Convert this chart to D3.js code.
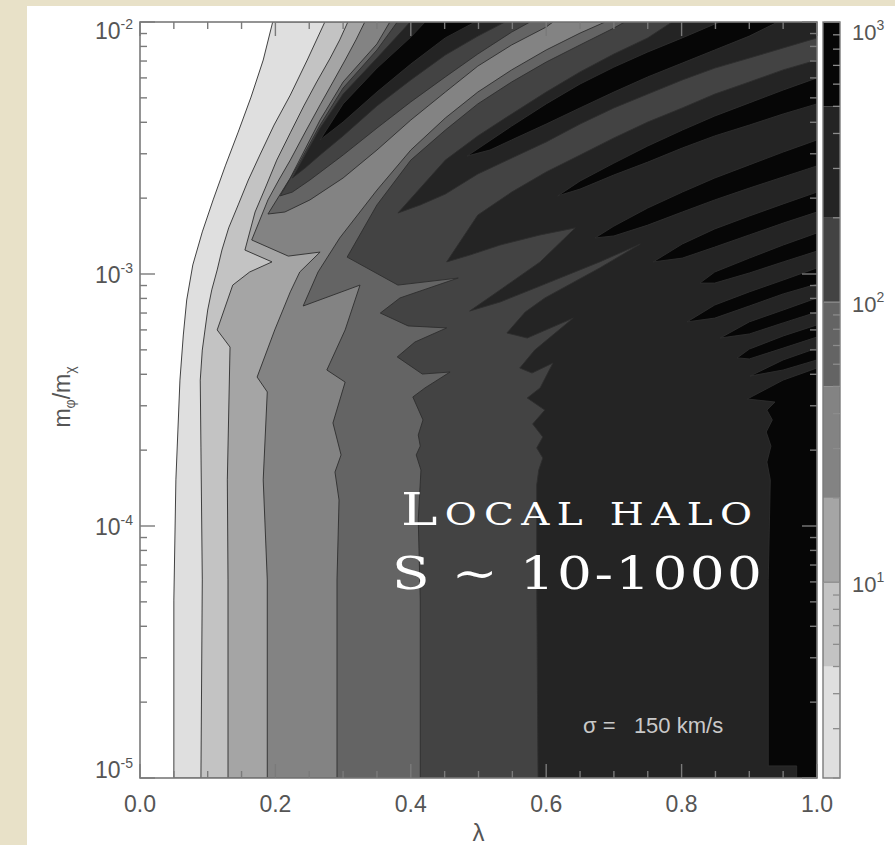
<!DOCTYPE html>
<html>
<head>
<meta charset="utf-8">
<script src="https://cdn.jsdelivr.net/npm/d3@7"></script>
<style>
  html, body { margin: 0; padding: 0; background: #e8e1c8; }
  svg { display: block; }
</style>
</head>
<body>
<svg id="chart" width="895" height="845"></svg>
<script>
// Filled contour levels of the enhancement factor S and their grey shades
const levels = [2, 5, 10, 20, 50, 100, 200, 500];
const levelShades = ['#dfdfdf', '#c3c3c3', '#a5a5a5', '#838383', '#646464', '#434343', '#242424', '#060606'];
const barTop = 1000;

// Axis ticks
const xTicks = [0, 0.2, 0.4, 0.6, 0.8, 1.0];
const yDecades = [-5, -4, -3, -2];
const barDecades = [1, 2, 3];

// Superlevel regions {S >= level}; each polygon is a list of [lambda, log10(m_phi/m_chi)]
const regionS2 = [
  [[0.050,-5],[0.050,-4.294],[0.053,-3.817],[0.056,-3.619],[0.059,-3.421],[0.064,-3.242],[0.069,-3.103],[0.078,-2.964],[0.092,-2.833],[0.108,-2.706],[0.126,-2.571],[0.145,-2.437],[0.164,-2.298],[0.182,-2.151],[0.196,-2],[1,-2],[1,-5]]
];
const regionS5 = [
  [[0.090,-5],[0.092,-4.214],[0.090,-3.687],[0.089,-3.421],[0.092,-3.302],[0.096,-3.222],[0.100,-3.143],[0.106,-3.063],[0.114,-2.984],[0.121,-2.905],[0.131,-2.817],[0.145,-2.726],[0.160,-2.627],[0.177,-2.528],[0.198,-2.409],[0.222,-2.290],[0.247,-2.151],[0.273,-2],[1,-2],[1,-5]]
];
const regionS10 = [
  [[0.130,-5],[0.130,-4.214],[0.129,-3.817],[0.133,-3.290],[0.114,-3.222],[0.137,-3.044],[0.162,-2.992],[0.195,-2.952],[0.155,-2.905],[0.170,-2.754],[0.185,-2.659],[0.202,-2.548],[0.222,-2.440],[0.242,-2.333],[0.261,-2.238],[0.281,-2.143],[0.295,-2.071],[0.307,-2],[1,-2],[1,-5]]
];
const regionS20 = [
  [[0.188,-5],[0.188,-4.214],[0.182,-3.817],[0.188,-3.468],[0.173,-3.409],[0.199,-3.222],[0.222,-3.071],[0.236,-2.992],[0.266,-2.913],[0.219,-2.929],[0.165,-2.865],[0.189,-2.706],[0.205,-2.627],[0.222,-2.548],[0.244,-2.437],[0.266,-2.329],[0.285,-2.238],[0.303,-2.151],[0.319,-2.071],[0.332,-2],[1,-2],[1,-5]]
];
const regionS50 = [
  [[0.291,-5],[0.291,-4.214],[0.294,-3.897],[0.288,-3.786],[0.297,-3.718],[0.285,-3.591],[0.303,-3.429],[0.276,-3.381],[0.303,-3.222],[0.325,-3.044],[0.241,-3.127],[0.263,-2.992],[0.295,-2.857],[0.350,-2.667],[0.400,-2.508],[0.451,-2.381],[0.499,-2.278],[0.549,-2.190],[0.600,-2.111],[0.650,-2.044],[0.687,-2],[1,-2],[1,-5]],
  [[0.189,-2.762],[0.222,-2.619],[0.266,-2.389],[0.300,-2.238],[0.350,-2.087],[0.369,-2],[0.610,-2],[0.600,-2.020],[0.549,-2.091],[0.499,-2.175],[0.451,-2.278],[0.400,-2.389],[0.350,-2.508],[0.300,-2.619],[0.251,-2.706],[0.214,-2.754]]
];
const regionS100 = [
  [[0.414,-5],[0.414,-4.294],[0.411,-3.976],[0.415,-3.778],[0.408,-3.718],[0.414,-3.683],[0.411,-3.639],[0.418,-3.579],[0.403,-3.488],[0.421,-3.452],[0.458,-3.389],[0.417,-3.397],[0.380,-3.329],[0.406,-3.270],[0.453,-3.214],[0.396,-3.206],[0.355,-3.155],[0.384,-3.095],[0.470,-3.016],[0.381,-3.044],[0.306,-2.933],[0.350,-2.726],[0.400,-2.548],[0.451,-2.429],[0.499,-2.325],[0.549,-2.238],[0.600,-2.159],[0.650,-2.091],[0.700,-2.024],[0.716,-2],[1,-2],[1,-5]],
  [[0.207,-2.690],[0.236,-2.556],[0.266,-2.409],[0.300,-2.262],[0.350,-2.111],[0.380,-2],[0.576,-2],[0.549,-2.040],[0.499,-2.127],[0.451,-2.218],[0.400,-2.317],[0.350,-2.421],[0.300,-2.528],[0.251,-2.627],[0.225,-2.675]]
];
const regionS200 = [
  [[0.588,-5],[0.586,-4.214],[0.586,-3.837],[0.589,-3.778],[0.595,-3.730],[0.586,-3.690],[0.595,-3.647],[0.580,-3.595],[0.598,-3.540],[0.572,-3.492],[0.591,-3.452],[0.610,-3.353],[0.579,-3.393],[0.561,-3.373],[0.583,-3.302],[0.640,-3.175],[0.572,-3.254],[0.542,-3.234],[0.569,-3.151],[0.598,-3.095],[0.679,-2.976],[0.739,-2.881],[0.679,-2.952],[0.598,-3.040],[0.532,-3.111],[0.487,-3.147],[0.532,-3.063],[0.591,-2.952],[0.643,-2.817],[0.591,-2.845],[0.532,-2.885],[0.487,-2.925],[0.453,-2.952],[0.499,-2.766],[0.549,-2.675],[0.600,-2.595],[0.650,-2.528],[0.700,-2.460],[0.750,-2.397],[0.801,-2.341],[0.849,-2.286],[0.900,-2.238],[0.950,-2.190],[1,-2.151],[1,-5]],
  [[0.381,-2.758],[0.451,-2.548],[0.499,-2.452],[0.549,-2.365],[0.600,-2.278],[0.650,-2.198],[0.700,-2.127],[0.750,-2.063],[0.786,-2],[1,-2],[1,-2.063],[0.900,-2.143],[0.849,-2.183],[0.801,-2.230],[0.750,-2.286],[0.700,-2.341],[0.650,-2.405],[0.600,-2.476],[0.549,-2.540],[0.499,-2.603],[0.451,-2.683],[0.414,-2.726]],
  [[0.225,-2.619],[0.266,-2.421],[0.300,-2.286],[0.350,-2.143],[0.384,-2.044],[0.399,-2],[0.539,-2],[0.499,-2.056],[0.451,-2.131],[0.400,-2.230],[0.350,-2.333],[0.300,-2.452],[0.266,-2.528],[0.244,-2.579]]
];
const regionS500 = [
  [[1,-3.373],[0.950,-3.421],[0.897,-3.496],[0.938,-3.508],[0.926,-3.540],[0.934,-3.579],[0.925,-3.627],[0.932,-3.683],[0.926,-3.746],[0.931,-3.817],[0.928,-4.214],[0.928,-4.952],[0.970,-4.952],[0.970,-5],[1,-5]],
  [[0.266,-2.468],[0.300,-2.325],[0.350,-2.183],[0.400,-2.060],[0.421,-2],[0.495,-2],[0.451,-2.063],[0.400,-2.167],[0.350,-2.278],[0.300,-2.397]],
  [[0.483,-2.532],[0.549,-2.413],[0.600,-2.325],[0.650,-2.246],[0.700,-2.179],[0.750,-2.119],[0.801,-2.063],[0.849,-2.008],[0.857,-2],[0.942,-2],[0.900,-2.056],[0.849,-2.111],[0.801,-2.163],[0.750,-2.218],[0.700,-2.278],[0.650,-2.341],[0.600,-2.405],[0.549,-2.468],[0.517,-2.508]],
  [[0.617,-2.690],[0.650,-2.631],[0.700,-2.560],[0.750,-2.492],[0.801,-2.429],[0.849,-2.373],[0.900,-2.321],[0.950,-2.270],[1,-2.222],[1,-2.325],[0.950,-2.365],[0.900,-2.409],[0.849,-2.452],[0.801,-2.500],[0.750,-2.556],[0.700,-2.607],[0.650,-2.663]],
  [[0.672,-2.857],[0.700,-2.810],[0.750,-2.738],[0.801,-2.675],[0.849,-2.619],[0.900,-2.567],[0.950,-2.516],[1,-2.468],[1,-2.571],[0.950,-2.615],[0.900,-2.659],[0.849,-2.706],[0.801,-2.754],[0.750,-2.806],[0.700,-2.849]],
  [[0.758,-2.952],[0.801,-2.881],[0.849,-2.821],[0.900,-2.770],[0.950,-2.722],[1,-2.675],[1,-2.754],[0.950,-2.798],[0.900,-2.845],[0.849,-2.893],[0.801,-2.937]],
  [[0.827,-3.036],[0.849,-2.992],[0.900,-2.937],[0.950,-2.885],[1,-2.837],[1,-2.909],[0.950,-2.952],[0.900,-2.996],[0.849,-3.036]],
  [[0.808,-3.190],[0.849,-3.123],[0.900,-3.071],[0.950,-3.024],[1,-2.976],[1,-3.040],[0.950,-3.079],[0.900,-3.127],[0.849,-3.175]],
  [[0.857,-3.254],[0.900,-3.190],[0.950,-3.143],[1,-3.095],[1,-3.151],[0.950,-3.194],[0.900,-3.238]],
  [[0.882,-3.333],[0.900,-3.298],[0.950,-3.246],[1,-3.202],[1,-3.250],[0.950,-3.294],[0.900,-3.337]],
  [[0.901,-3.405],[0.950,-3.341],[1,-3.294],[1,-3.341],[0.950,-3.381]]
];
const regions = [regionS2, regionS5, regionS10, regionS20, regionS50, regionS100, regionS200, regionS500];

// Layout
const W = 895, H = 845;
const plot = { left: 140, right: 817, top: 22, bottom: 778 };
const bar = { left: 823, right: 840 };

const svg = d3.select('#chart');

// page panel
svg.append('rect').attr('x', 0).attr('y', 0).attr('width', W).attr('height', H).attr('fill', '#e8e1c8');
svg.append('rect').attr('x', 27).attr('y', 6).attr('width', W - 27).attr('height', H - 6).attr('fill', '#ffffff');

const x = d3.scaleLinear().domain([0, 1]).range([plot.left, plot.right]);
const y = d3.scaleLog().domain([1e-5, 1e-2]).range([plot.bottom, plot.top]);
const yBar = d3.scaleLog().domain([levels[0], barTop]).range([plot.bottom, plot.top]);

svg.append('clipPath').attr('id', 'plotClip')
  .append('rect').attr('x', plot.left).attr('y', plot.top)
  .attr('width', plot.right - plot.left).attr('height', plot.bottom - plot.top);

const line = d3.line()
  .x(d => x(d[0]))
  .y(d => y(Math.pow(10, d[1])))
  .curve(d3.curveLinearClosed);

const field = svg.append('g').attr('clip-path', 'url(#plotClip)');
field.append('rect').attr('x', plot.left).attr('y', plot.top)
  .attr('width', plot.right - plot.left).attr('height', plot.bottom - plot.top).attr('fill', '#ffffff');

regions.forEach((polys, i) => {
  field.append('g')
    .selectAll('path')
    .data(polys)
    .join('path')
    .attr('d', line)
    .attr('fill', levelShades[i])
    .attr('stroke', '#2e2e2e')
    .attr('stroke-width', 0.9)
    .attr('stroke-linejoin', 'round');
});

// frame and ticks
const axisColor = '#7a7a7a';
svg.append('rect').attr('x', plot.left).attr('y', plot.top)
  .attr('width', plot.right - plot.left).attr('height', plot.bottom - plot.top)
  .attr('fill', 'none').attr('stroke', axisColor).attr('stroke-width', 1.6);

const ticks = svg.append('g').attr('stroke', axisColor).attr('stroke-width', 1.4);
d3.range(0, 1.0001, 0.05).forEach(v => {
  const major = Math.abs(v * 5 - Math.round(v * 5)) < 1e-6;
  const len = major ? 14 : 7;
  ticks.append('line').attr('x1', x(v)).attr('x2', x(v)).attr('y1', plot.bottom).attr('y2', plot.bottom - len);
  ticks.append('line').attr('x1', x(v)).attr('x2', x(v)).attr('y1', plot.top).attr('y2', plot.top + len);
});
yDecades.forEach((d, k) => {
  const mults = k < yDecades.length - 1 ? d3.range(1, 10) : [1];
  mults.forEach(m => {
    const v = m * Math.pow(10, d);
    const len = m === 1 ? 15 : 7;
    ticks.append('line').attr('x1', plot.left).attr('x2', plot.left + len).attr('y1', y(v)).attr('y2', y(v));
    ticks.append('line').attr('x1', plot.right).attr('x2', plot.right - len).attr('y1', y(v)).attr('y2', y(v));
  });
});

const labelColor = '#555555';
const font = "'Liberation Sans', Arial, sans-serif";

// x tick labels
svg.append('g').selectAll('text').data(xTicks).join('text')
  .attr('x', d => x(d)).attr('y', 812)
  .attr('text-anchor', 'middle')
  .attr('font-family', font).attr('font-size', 23).attr('fill', labelColor)
  .text(d => d.toFixed(1));

// y tick labels 10^n (end labels pulled inside the axis span)
const yLabelShift = { '-5': 0, '-4': 9, '-3': 9, '-2': 17 };
yDecades.forEach(d => {
  const t = svg.append('text')
    .attr('x', plot.left - 7).attr('y', y(Math.pow(10, d)) + yLabelShift[d])
    .attr('text-anchor', 'end')
    .attr('font-family', font).attr('font-size', 23).attr('fill', labelColor);
  t.append('tspan').text('10');
  t.append('tspan').attr('dy', -10).attr('font-size', 14).text(d);
});

// axis titles
svg.append('text').attr('x', x(0.5)).attr('y', 841)
  .attr('text-anchor', 'middle').attr('font-family', font).attr('font-size', 24).attr('fill', labelColor)
  .text('λ');
const yTitle = svg.append('text')
  .attr('transform', `translate(70, 397) rotate(-90)`)
  .attr('text-anchor', 'middle').attr('font-family', font).attr('font-size', 23).attr('fill', labelColor);
yTitle.append('tspan').text('m');
yTitle.append('tspan').attr('font-size', 14).attr('dy', 5).text('φ');
yTitle.append('tspan').attr('dy', -5).text('/m');
yTitle.append('tspan').attr('font-size', 14).attr('dy', 5).text('χ');

// colour bar
const barLevels = levels.concat([barTop]);
svg.append('g').selectAll('rect').data(levels).join('rect')
  .attr('x', bar.left).attr('width', bar.right - bar.left)
  .attr('y', (d, i) => yBar(barLevels[i + 1]))
  .attr('height', (d, i) => yBar(d) - yBar(barLevels[i + 1]))
  .attr('fill', (d, i) => levelShades[i]);
svg.append('rect').attr('x', bar.left).attr('y', plot.top)
  .attr('width', bar.right - bar.left).attr('height', plot.bottom - plot.top)
  .attr('fill', 'none').attr('stroke', axisColor).attr('stroke-width', 1.4);
const barTicks = svg.append('g').attr('stroke', '#8c8c8c').attr('stroke-width', 1.3);
[0, 1, 2].forEach(d => {
  d3.range(1, 10).forEach(m => {
    const v = m * Math.pow(10, d);
    if (v < levels[0] || v > barTop) return;
    const len = m === 1 ? 16 : 7;
    barTicks.append('line').attr('x1', bar.right).attr('x2', bar.right - len).attr('y1', yBar(v)).attr('y2', yBar(v));
  });
});
barTicks.append('line').attr('x1', bar.right).attr('x2', bar.right - 16).attr('y1', yBar(barTop)).attr('y2', yBar(barTop));
barDecades.forEach(d => {
  const yy = yBar(Math.pow(10, d)) + (d === 3 ? 18 : 10);
  const t = svg.append('text').attr('x', 852).attr('y', yy)
    .attr('font-family', font).attr('font-size', 22).attr('fill', labelColor);
  t.append('tspan').text('10');
  t.append('tspan').attr('dy', -10).attr('font-size', 14).text(d);
});

// annotations inside the plot
svg.append('text').attr('x', 583).attr('y', 733)
  .attr('font-family', font).attr('font-size', 22).attr('fill', '#c9c9c9')
  .attr('xml:space', 'preserve')
  .text('σ =   150 km/s');

const serif = "'DejaVu Serif', 'Liberation Serif', serif";
const stretch = 1.22;
const t1 = svg.append('text')
  .attr('transform', `translate(401, 525) scale(${stretch}, 1)`)
  .attr('font-family', serif).attr('fill', '#ffffff')
  .attr('textLength', 351 / stretch).attr('lengthAdjust', 'spacing');
t1.append('tspan').attr('font-size', 45).text('L');
t1.append('tspan').attr('font-size', 32).text('OCAL HALO');
svg.append('text')
  .attr('transform', `translate(392, 589) scale(${stretch}, 1)`)
  .attr('font-family', serif).attr('fill', '#ffffff').attr('font-size', 45)
  .attr('textLength', 370 / stretch).attr('lengthAdjust', 'spacing')
  .text('S ~ 10-1000');
</script>
</body>
</html>
